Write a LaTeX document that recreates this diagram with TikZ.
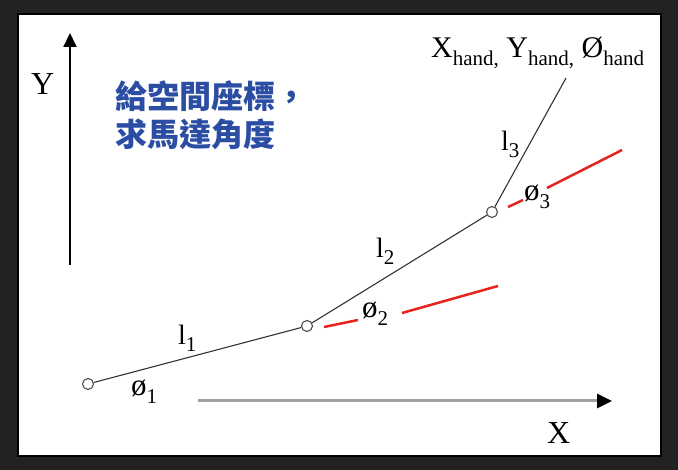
\documentclass[tikz,border=0pt]{standalone}
\usepackage{fontspec}
\setmainfont{Liberation Serif}
\newfontfamily\cjk{Noto Sans CJK TC}
\usetikzlibrary{arrows.meta}
\definecolor{bgdark}{HTML}{222222}
\definecolor{titleblue}{HTML}{2B4DA3}
\definecolor{redline}{HTML}{E8231E}
\definecolor{axisgray}{HTML}{A0A0A0}
\newcommand\sbt[1]{\raisebox{-0.25em}{\fontsize{21}{21}\selectfont #1}}
\begin{document}
\begin{tikzpicture}[x=1pt,y=-1pt,
  lab/.style={anchor=base west, inner sep=0pt, font=\fontsize{28}{28}\selectfont},
  olab/.style={anchor=base west, inner sep=0pt, font=\fontsize{31}{31}\selectfont},
  hlabst/.style={anchor=base west, inner sep=0pt, font=\fontsize{30}{30}\selectfont},
  biglab/.style={anchor=base west, inner sep=0pt, font=\fontsize{32}{32}\selectfont},
  title/.style={anchor=base west, inner sep=0pt, text=titleblue, font=\cjk\bfseries\fontsize{32}{32}\selectfont},
  joint/.style={circle, draw=black!70, line width=1.1pt, minimum size=11pt, inner sep=0pt, fill=white},
  link/.style={line width=1.1pt, black!80},
  ext/.style={line width=2.5pt, redline}]
\fill[bgdark] (0,0) rectangle (678,470);
\useasboundingbox (0,0) rectangle (678,470);
\draw[black, line width=1.5pt, fill=white] (18,14) rectangle (661,456);
% axes
\coordinate (yb) at (70,265);
\coordinate (yt) at (70,33);
\draw[line width=2pt, -{Triangle[length=14pt,width=13pt]}] (yb) -- (yt);
\coordinate (xb) at (198,401);
\coordinate (xt) at (612,401);
\draw[line width=3pt, axisgray, -{Triangle[length=15pt,width=14pt,color=black]}] (xb) -- (xt);
\node[biglab] (Ylab) at (31,95) {Y};
\node[biglab] (Xlab) at (547,443) {X};
% title
\node[title] (t1) at (115,109) {給空間座標，};
\node[title] (t2) at (115,147) {求馬達角度};
% red extensions
\coordinate (r1a) at (324,327);
\coordinate (r1b) at (358,320);
\coordinate (r1c) at (402,313);
\coordinate (r1d) at (498,286);
\coordinate (r2a) at (508,207);
\coordinate (r2b) at (523,200);
\coordinate (r2c) at (547,188);
\coordinate (r2d) at (622,150);
\draw[ext] (r1a) -- (r1b);
\draw[ext] (r1c) -- (r1d);
\draw[ext] (r2a) -- (r2b);
\draw[ext] (r2c) -- (r2d);
% joints and links
\node[joint] (j0) at (88,384) {};
\node[joint] (j1) at (307,326) {};
\node[joint] (j2) at (492,212) {};
\coordinate (hand) at (566,78);
\draw[link] (j0) -- (j1);
\draw[link] (j1) -- (j2);
\draw[link] (j2) -- (hand);
% labels
\node[lab] (l1) at (178,345) {l\sbt{1}};
\node[lab] (l2) at (376,258) {l\sbt{2}};
\node[lab] (l3) at (501,151) {l\sbt{3}};
\node[olab] (o1) at (131,396) {ø\sbt{1}};
\node[olab] (o2) at (362,318) {ø\sbt{2}};
\node[olab] (o3) at (524,201) {ø\sbt{3}};
\node[hlabst] (hlab) at (431,58) {X\sbt{hand,} Y\sbt{hand,} Ø\sbt{hand}};
\end{tikzpicture}
\end{document}
